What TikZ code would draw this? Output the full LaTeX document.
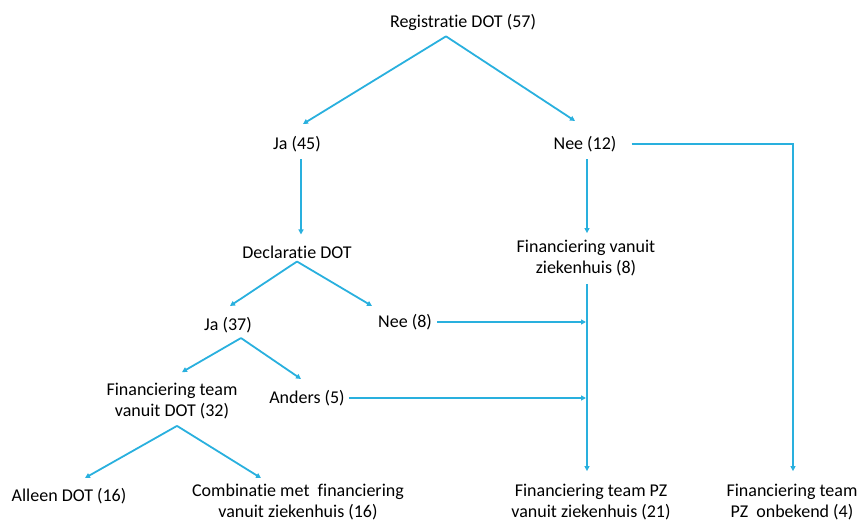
\documentclass[tikz,border=0pt]{standalone}
\usepackage{fontspec}
\setmainfont{Carlito}[Ligatures=NoCommon]
\usetikzlibrary{arrows,arrows.meta,calc,positioning}
\definecolor{lineblue}{rgb}{0.16,0.69,0.87}

\tikzset{
  lbl/.style={inner sep=0pt, align=center, font=\fontsize{18}{21.5}\selectfont},
  arr/.style={-{Triangle[length=5pt,width=5pt]}, line width=1.8pt, lineblue}
}

\begin{document}
\begin{tikzpicture}[x=1pt,y=-1pt]
  \useasboundingbox (0,0) rectangle (860,521);

  \node[lbl] (reg) at (463,22) {Registratie DOT (57)};
  \node[lbl] (ja45) at (297,144) {Ja (45)};
  \node[lbl] (nee12) at (585,144) {Nee (12)};
  \node[lbl] (decl) at (297,252) {Declaratie DOT};
  \node[lbl] (fin8) at (586,258) {Financiering vanuit\\ziekenhuis (8)};
  \node[lbl] (ja37) at (228,325) {Ja (37)};
  \node[lbl] (nee8) at (405,322) {Nee (8)};
  \node[lbl] (findot) at (172,401) {Financiering team\\vanuit DOT (32)};
  \node[lbl] (anders) at (307,398) {Anders (5)};
  \node[lbl] (alleen) at (69,496) {Alleen DOT (16)};
  \node[lbl] (comb) at (298,502) {Combinatie met~~financiering\\vanuit ziekenhuis (16)};
  \node[lbl] (pz21) at (591,502) {Financiering team PZ\\vanuit ziekenhuis (21)};
  \node[lbl] (onb) at (792,502) {Financiering team\\PZ~~onbekend (4)};

  % eerste splitsing
  \draw[arr] ([xshift=-17pt,yshift=-6pt]reg.south) -- ([xshift=6pt,yshift=12pt]ja45.north);
  \draw[arr] ([xshift=-17pt,yshift=-6pt]reg.south) -- ([xshift=-10pt,yshift=15pt]nee12.north);
  \draw[arr] ([xshift=4pt,yshift=-7pt]ja45.south) -- ([xshift=4pt,yshift=11pt]decl.north);
  \draw[arr] ([xshift=2pt,yshift=-7pt]nee12.south) -- ([xshift=1pt,yshift=6.5pt]fin8.north);
  \draw[arr] ([xshift=15pt]nee12.east) -| ([xshift=1pt,yshift=12.5pt]onb.north);

  % declaratie
  \draw[arr] ([yshift=-3pt]decl.south) -- ([xshift=2pt,yshift=11pt]ja37.north);
  \draw[arr] ([yshift=-3pt]decl.south) -- ([xshift=-33pt,yshift=8pt]nee8.north);
  \draw[arr] ([xshift=13pt,yshift=-5pt]ja37.south) -- ([xshift=10pt,yshift=10.5pt]findot.north);
  \draw[arr] ([xshift=13pt,yshift=-5pt]ja37.south) -- ([xshift=-6pt,yshift=11pt]anders.north);

  % naar ziekenhuis
  \draw[arr] ([xshift=1pt,yshift=-7.5pt]fin8.south) -- ([xshift=-4pt,yshift=12.5pt]pz21.north);
  \draw[arr] ([xshift=5pt]nee8.east) -- (nee8.east -| fin8.south);
  \draw[arr] ([xshift=4pt]anders.east) -- (anders.east -| fin8.south);

  % financiering team
  \draw[arr] ([xshift=5pt,yshift=-6.5pt]findot.south) -- ([xshift=16pt,yshift=10pt]alleen.north);
  \draw[arr] ([xshift=5pt,yshift=-6.5pt]findot.south) -- ([xshift=-37pt,yshift=5.5pt]comb.north);
\end{tikzpicture}
\end{document}
